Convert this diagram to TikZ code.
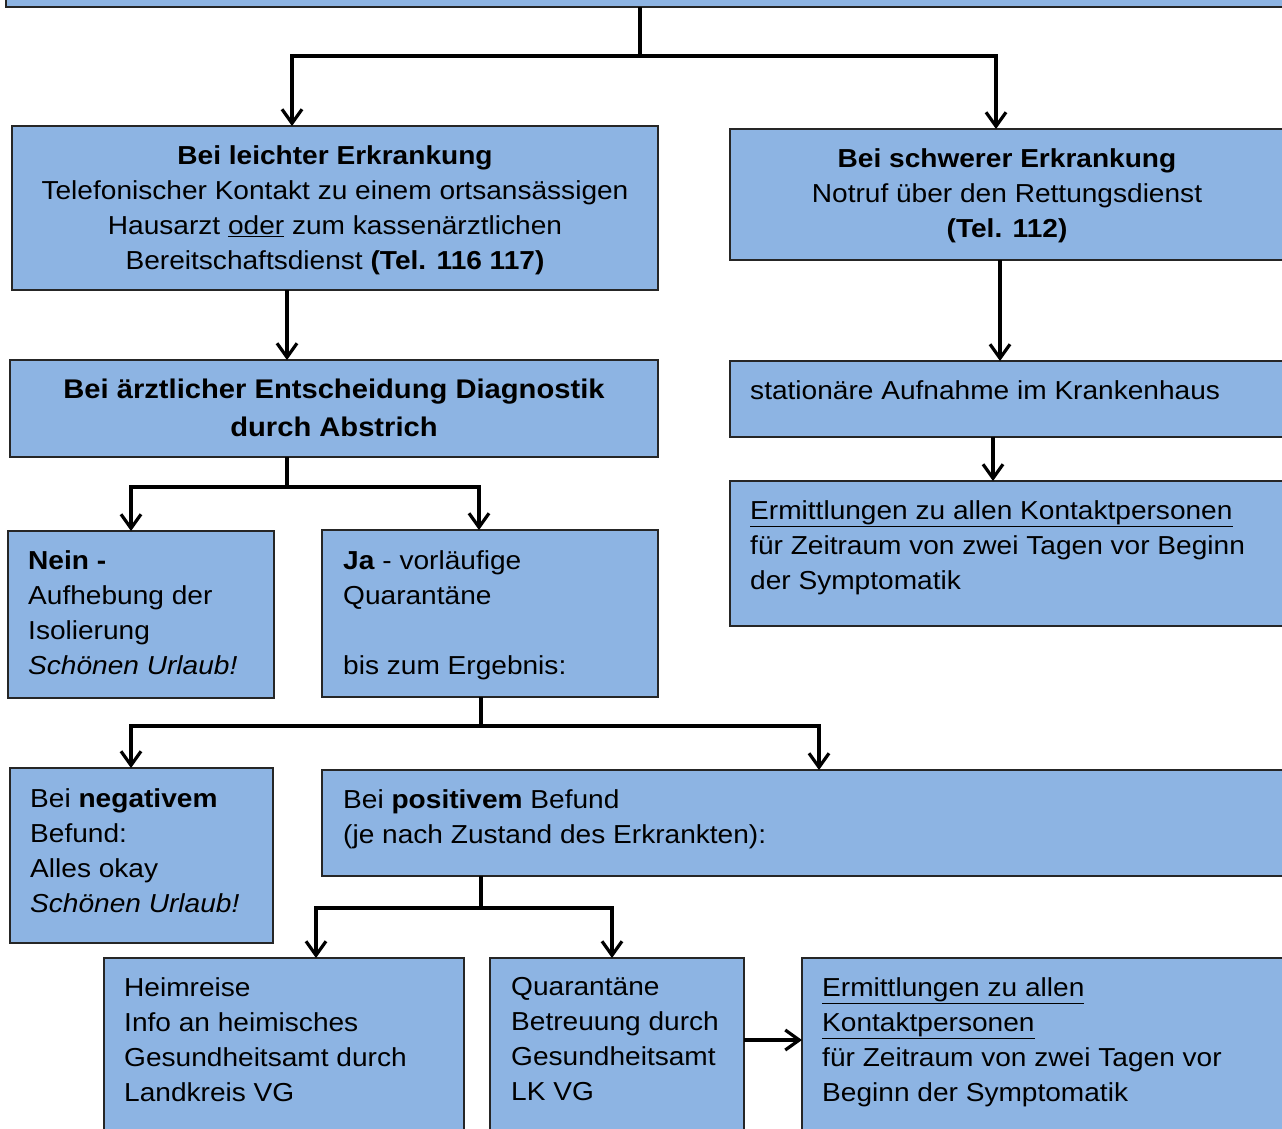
\documentclass[tikz,border=0pt]{standalone}
\usepackage{fontspec}
\setmainfont[FakeStretch=1.08]{Liberation Sans}
\usetikzlibrary{arrows.meta}
\definecolor{boxblue}{RGB}{141,180,227}
\begin{document}
\begin{tikzpicture}[x=1pt,y=-1pt,
 box/.style={draw=black!85, line width=1.2pt, fill=boxblue, rectangle, inner sep=0pt, outer sep=0pt, anchor=north west},
 txt/.style={inner sep=0pt, font=\fontsize{26}{35}\selectfont, align=left, anchor=north west},
 ctxt/.style={txt, align=center, anchor=north},
 ln/.style={line width=3.2pt},
 arr/.style={ln, -{Straight Barb[length=14pt,width=20pt]}}]
\useasboundingbox (0,0) rectangle (1282,1128);
\clip (0,0) rectangle (1282,1128);
% boxes
\node[box, minimum width=1300pt, minimum height=37pt] (top) at (6,-30) {};
\node[box, minimum width=646pt, minimum height=164pt] (L1) at (12,126) {};
\node[box, minimum width=570pt, minimum height=131pt] (R1) at (730,129) {};
\node[box, minimum width=648pt, minimum height=97pt] (L2) at (10,360) {};
\node[box, minimum width=570pt, minimum height=76pt] (R2) at (730,361) {};
\node[box, minimum width=570pt, minimum height=145pt] (R3) at (730,481) {};
\node[box, minimum width=266pt, minimum height=167pt] (nein) at (8,531) {};
\node[box, minimum width=336pt, minimum height=167pt] (ja) at (322,530) {};
\node[box, minimum width=263pt, minimum height=175pt] (neg) at (10,768) {};
\node[box, minimum width=980pt, minimum height=106pt] (pos) at (322,770) {};
\node[box, minimum width=360pt, minimum height=200pt] (heim) at (104,958) {};
\node[box, minimum width=254pt, minimum height=200pt] (quar) at (490,958) {};
\node[box, minimum width=500pt, minimum height=200pt] (erm) at (802,958) {};
% texts
\node[ctxt] (tL1) at (335,145) {\textbf{Bei leichter Erkrankung}\\Telefonischer Kontakt zu einem ortsansässigen\\Hausarzt \underline{oder} zum kassenärztlichen\\Bereitschaftsdienst \textbf{(Tel. 116 117)}};
\node[ctxt] (tR1) at (1007,148) {\textbf{Bei schwerer Erkrankung}\\Notruf über den Rettungsdienst\\\textbf{(Tel. 112)}};
\node[ctxt, font=\fontsize{27}{38}\selectfont] (tL2) at (334,379) {\textbf{Bei ärztlicher Entscheidung Diagnostik}\\\textbf{durch Abstrich}};
\node[txt] (tR2) at (750,380) {stationäre Aufnahme im Krankenhaus};
\node[txt] (tR3) at (750,500) {\underline{Ermittlungen zu allen Kontaktpersonen}\\für Zeitraum von zwei Tagen vor Beginn\\der Symptomatik};
\node[txt] (tnein) at (28,550) {\textbf{Nein -}\\Aufhebung der\\Isolierung\\\textit{Schönen Urlaub!}};
\node[txt] (tja) at (343,550) {\textbf{Ja} - vorläufige\\Quarantäne\\\mbox{}\\bis zum Ergebnis:};
\node[txt] (tneg) at (30,788) {Bei \textbf{negativem}\\Befund:\\Alles okay\\\textit{Schönen Urlaub!}};
\node[txt] (tpos) at (343,789) {Bei \textbf{positivem} Befund\\(je nach Zustand des Erkrankten):};
\node[txt] (theim) at (124,977) {Heimreise\\Info an heimisches\\Gesundheitsamt durch\\Landkreis VG};
\node[txt] (tquar) at (511,977) {Quarantäne\\Betreuung durch\\Gesundheitsamt\\LK VG};
\node[txt] (term) at (822,977) {\underline{Ermittlungen zu allen}\\\underline{Kontaktpersonen}\\für Zeitraum von zwei Tagen vor\\Beginn der Symptomatik};
% connectors
\coordinate (s1) at (640,56);
\draw[ln] (top.south -| s1) -- (s1);
\draw[arr] (s1) -| (292,0 |- L1.north);
\draw[arr] (s1) -| (996,0 |- R1.north);
\draw[arr] (287,0 |- L1.south) -- (287,0 |- L2.north);
\draw[arr] (1000,0 |- R1.south) -- (1000,0 |- R2.north);
\draw[arr] (993,0 |- R2.south) -- (993,0 |- R3.north);
\coordinate (s2) at (287,487);
\draw[ln] (L2.south -| s2) -- (s2);
\draw[arr] (s2) -| (131,0 |- nein.north);
\draw[arr] (s2) -| (479,0 |- ja.north);
\coordinate (s3) at (481,726);
\draw[ln] (ja.south -| s3) -- (s3);
\draw[arr] (s3) -| (131,0 |- neg.north);
\draw[arr] (s3) -| (819,0 |- pos.north);
\coordinate (s4) at (481,908);
\draw[ln] (pos.south -| s4) -- (s4);
\draw[arr] (s4) -| (316,0 |- heim.north);
\draw[arr] (s4) -| (612,0 |- quar.north);
\draw[arr] (quar.east |- 0,1040) -- (erm.west |- 0,1040);
\end{tikzpicture}
\end{document}
